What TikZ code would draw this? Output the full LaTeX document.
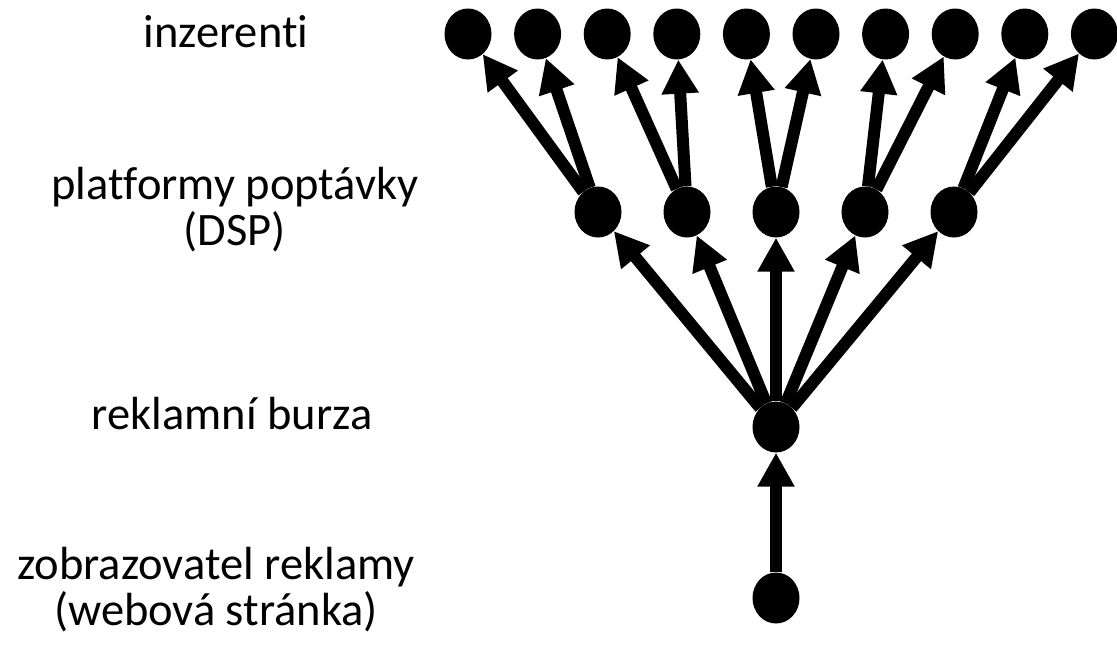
\documentclass[tikz,border=0pt]{standalone}
\usepackage{fontspec}
\setmainfont{Carlito}[RawFeature={-liga,-clig,-calt,-dlig}]
\usetikzlibrary{arrows.meta,shapes.geometric}

\begin{document}
\begin{tikzpicture}[x=1pt,y=-1pt,
  dot/.style={ellipse,fill=black,inner sep=0pt,minimum width=47pt,minimum height=51pt},
  arr/.style={-{Triangle[length=34pt,width=35pt]},line width=12pt},
  lab/.style={align=center,font=\fontsize{46.5}{46}\selectfont,anchor=base}
]
\useasboundingbox (0,0) rectangle (1117,648);
% levels of the auction tree
\node[dot] (pub) at (776,598) {};
\node[dot] (ex) at (776,427) {};
\foreach \i/\x in {0/598,1/687,2/776,3/865,4/954}
  \node[dot] (d\i) at (\x,212) {};
\foreach \i in {0,...,9}
  \node[dot] (t\i) at (468+69.6*\i,34) {};
% arrows
\draw[arr] (pub) -- (ex);
\foreach \i in {0,...,4}
  \draw[arr] (ex) -- (d\i);
\foreach \i [evaluate=\i as \a using int(2*\i), evaluate=\i as \b using int(2*\i+1)] in {0,...,4} {
  \draw[arr] (d\i) -- (t\a);
  \draw[arr] (d\i) -- (t\b);
}
% labels (base = last line)
\node[lab] (adv) at (226,47) {inzerenti};
\node[lab] (dsp) at (235,245) {platformy poptávky\\(DSP)};
\node[lab] (exch) at (232,429) {reklamní burza};
\node[lab] (site) at (216,625) {zobrazovatel reklamy\\(webová stránka)};
\end{tikzpicture}
\end{document}
